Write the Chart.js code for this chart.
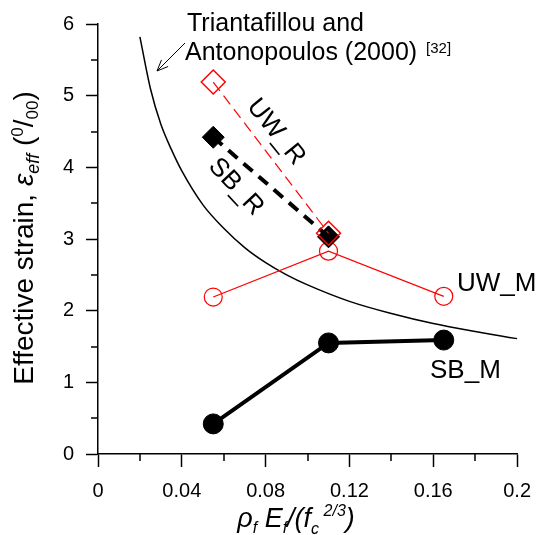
<!DOCTYPE html>
<html>
<head>
<meta charset="utf-8">
<script src="https://cdn.jsdelivr.net/npm/chart.js@4.4.0/dist/chart.umd.min.js"></script>
<style>
  html, body { margin: 0; padding: 0; background: #fff; }
  canvas { display: block; }
</style>
</head>
<body>
<canvas id="strainChart" width="543" height="535"></canvas>
<script>
// valores
const xPoints = [0.055, 0.110, 0.165];
const uwR = [5.19, 3.08];
const sbR = [4.42, 3.03];
const uwM = [2.19, 2.83, 2.20];
const sbM = [0.42, 1.55, 1.59];

// curva de Triantafillou y Antonopoulos (2000)
const curveX = [0.020, 0.025, 0.030, 0.035, 0.040, 0.050, 0.060, 0.070, 0.080, 0.090, 0.100, 0.120, 0.140, 0.160, 0.180, 0.200, 0.205];
const curveY = [5.82, 5.10, 4.60, 4.25, 3.95, 3.48, 3.15, 2.88, 2.67, 2.50, 2.36, 2.13, 1.96, 1.82, 1.71, 1.61, 1.59];

const xTickLabels = ['0', '0.04', '0.08', '0.12', '0.16', '0.2'];
const yTickLabels = ['0', '1', '2', '3', '4', '5', '6'];

const RED = '#ff0000';
const FONT = '"Liberation Sans", Arial, sans-serif';

function pts(xs, ys) {
    return ys.map((y, i) => ({ x: xs[i], y: y }));
}

// dibuja texto con subíndices / superíndices
function drawRich(ctx, segs, x, y) {
    segs.forEach(s => {
        ctx.font = s.font;
        ctx.fillText(s.t, x, y + (s.dy || 0));
        x += ctx.measureText(s.t).width;
    });
}
function richWidth(ctx, segs) {
    let w = 0;
    segs.forEach(s => { ctx.font = s.font; w += ctx.measureText(s.t).width; });
    return w;
}

const extras = {
    id: 'extras',
    afterDraw(chart) {
        const ctx = chart.ctx;
        const area = chart.chartArea;
        const xs = chart.scales.x, ys = chart.scales.y;
        ctx.save();
        ctx.strokeStyle = '#000';
        ctx.lineWidth = 1.5;

        // ticks menores
        ctx.beginPath();
        for (let v = 0.5; v < 6; v += 1) {
            const p = Math.round(ys.getPixelForValue(v));
            ctx.moveTo(area.left - 7, p);
            ctx.lineTo(area.left, p);
        }
        for (let k = 1; k < 10; k += 2) {
            const p = Math.round(xs.getPixelForValue(k * 0.02));
            ctx.moveTo(p, area.bottom);
            ctx.lineTo(p, area.bottom + 7);
        }
        ctx.stroke();

        ctx.fillStyle = '#000';
        ctx.textBaseline = 'alphabetic';
        ctx.textAlign = 'left';

        // título eje Y
        const yT = [
            { t: 'Effective strain, ', font: '28px ' + FONT },
            { t: 'ε', font: 'italic 28px ' + FONT },
            { t: 'eff', font: 'italic 18px ' + FONT, dy: 6 },
            { t: ' (', font: '28px ' + FONT },
            { t: '0', font: '17px ' + FONT, dy: -10 },
            { t: '/', font: '28px ' + FONT },
            { t: '00', font: '17px ' + FONT, dy: 5 },
            { t: ')', font: '28px ' + FONT }
        ];
        ctx.save();
        ctx.translate(33, 238);
        ctx.rotate(-Math.PI / 2);
        drawRich(ctx, yT, -richWidth(ctx, yT) / 2, 0);
        ctx.restore();

        // título eje X
        const xT = [
            { t: 'ρ', font: 'italic 27px ' + FONT },
            { t: 'f', font: 'italic 16px ' + FONT, dy: 6 },
            { t: ' E', font: 'italic 27px ' + FONT },
            { t: 'f', font: 'italic 16px ' + FONT, dy: 6 },
            { t: '/(f', font: 'italic 27px ' + FONT },
            { t: 'c', font: 'italic 16px ' + FONT, dy: 7 },
            { t: ' 2/3', font: 'italic 16px ' + FONT, dy: -11 },
            { t: ')', font: 'italic 27px ' + FONT }
        ];
        drawRich(ctx, xT, 296 - richWidth(ctx, xT) / 2, 527);

        // anotación de la curva
        ctx.font = '25px ' + FONT;
        ctx.fillText('Triantafillou and', 187, 31);
        ctx.fillText('Antonopoulos (2000)', 185, 60);
        const w2 = ctx.measureText('Antonopoulos (2000) ').width;
        ctx.font = '15px ' + FONT;
        ctx.fillText('[32]', 187 + w2, 53);

        // flecha
        const tail = [185, 43], tip = [157, 71];
        const ang = Math.atan2(tail[1] - tip[1], tail[0] - tip[0]);
        ctx.lineWidth = 1;
        ctx.beginPath();
        ctx.moveTo(tail[0], tail[1]);
        ctx.lineTo(tip[0], tip[1]);
        ctx.moveTo(tip[0] + 12 * Math.cos(ang + 0.4), tip[1] + 12 * Math.sin(ang + 0.4));
        ctx.lineTo(tip[0], tip[1]);
        ctx.lineTo(tip[0] + 12 * Math.cos(ang - 0.4), tip[1] + 12 * Math.sin(ang - 0.4));
        ctx.stroke();

        // etiquetas de series
        ctx.font = '26px ' + FONT;
        ctx.textAlign = 'center';
        ctx.textBaseline = 'middle';
        ctx.save();
        ctx.translate(276, 132);
        ctx.rotate(51 * Math.PI / 180);
        ctx.fillText('UW_R', 0, 0);
        ctx.restore();
        ctx.save();
        ctx.translate(236, 187);
        ctx.rotate(47 * Math.PI / 180);
        ctx.fillText('SB_R', 0, 0);
        ctx.restore();
        ctx.textAlign = 'left';
        ctx.textBaseline = 'alphabetic';
        ctx.fillText('UW_M', 457, 291);
        ctx.fillText('SB_M', 430, 378);

        ctx.restore();
    }
};

document.addEventListener('DOMContentLoaded', function() {
    const ctx = document.getElementById('strainChart').getContext('2d');
    new Chart(ctx, {
        type: 'line',
        data: {
            datasets: [
                {
                    label: 'UW_R',
                    data: pts(xPoints, uwR),
                    borderColor: RED,
                    borderWidth: 1.2,
                    borderDash: [11, 6],
                    pointStyle: 'rectRot',
                    pointRadius: 12,
                    pointBorderColor: RED,
                    pointBackgroundColor: 'rgba(0,0,0,0)',
                    pointBorderWidth: 1.5
                },
                {
                    label: 'SB_R',
                    data: pts(xPoints, sbR),
                    borderColor: '#000',
                    borderWidth: 4,
                    borderDash: [12, 8],
                    pointStyle: 'rectRot',
                    pointRadius: 11,
                    pointBorderColor: '#000',
                    pointBackgroundColor: '#000',
                    pointBorderWidth: 1
                },
                {
                    label: 'UW_M',
                    data: pts(xPoints, uwM),
                    borderColor: RED,
                    borderWidth: 1.2,
                    pointStyle: 'circle',
                    pointRadius: 9,
                    pointBorderColor: RED,
                    pointBackgroundColor: 'rgba(0,0,0,0)',
                    pointBorderWidth: 1.2
                },
                {
                    label: 'SB_M',
                    data: pts(xPoints, sbM),
                    borderColor: '#000',
                    borderWidth: 4,
                    pointStyle: 'circle',
                    pointRadius: 10,
                    pointBorderColor: '#000',
                    pointBackgroundColor: '#000',
                    pointBorderWidth: 1
                },
                {
                    label: 'Triantafillou',
                    data: pts(curveX, curveY),
                    borderColor: '#000',
                    borderWidth: 1.5,
                    pointRadius: 0,
                    clip: false,
                    cubicInterpolationMode: 'monotone'
                }
            ]
        },
        options: {
            responsive: false,
            animation: false,
            devicePixelRatio: 1,
            layout: { padding: { left: 0, right: 16, top: 22, bottom: 0 } },
            plugins: {
                legend: { display: false },
                tooltip: { enabled: false }
            },
            scales: {
                x: {
                    type: 'linear',
                    min: 0,
                    max: 0.2,
                    afterFit: s => { s.height = 81; },
                    afterBuildTicks: s => { s.ticks = xTickLabels.map(v => ({ value: parseFloat(v) })); },
                    ticks: {
                        callback: (v, i) => xTickLabels[i],
                        color: '#000',
                        font: { family: FONT, size: 20 },
                        padding: 12,
                        maxRotation: 0
                    },
                    grid: { drawOnChartArea: false, drawTicks: true, tickLength: 13, tickColor: '#000', tickWidth: 1.5 },
                    border: { display: true, color: '#000', width: 1.5 }
                },
                y: {
                    min: 0,
                    max: 6,
                    afterFit: s => { s.width = 98; },
                    afterBuildTicks: s => { s.ticks = yTickLabels.map(v => ({ value: parseFloat(v) })); },
                    ticks: {
                        callback: (v, i) => yTickLabels[i],
                        color: '#000',
                        font: { family: FONT, size: 20 },
                        padding: 12
                    },
                    grid: { drawOnChartArea: false, drawTicks: true, tickLength: 12, tickColor: '#000', tickWidth: 1.5 },
                    border: { display: true, color: '#000', width: 1.5 }
                }
            }
        },
        plugins: [extras]
    });
});
</script>
</body>
</html>
